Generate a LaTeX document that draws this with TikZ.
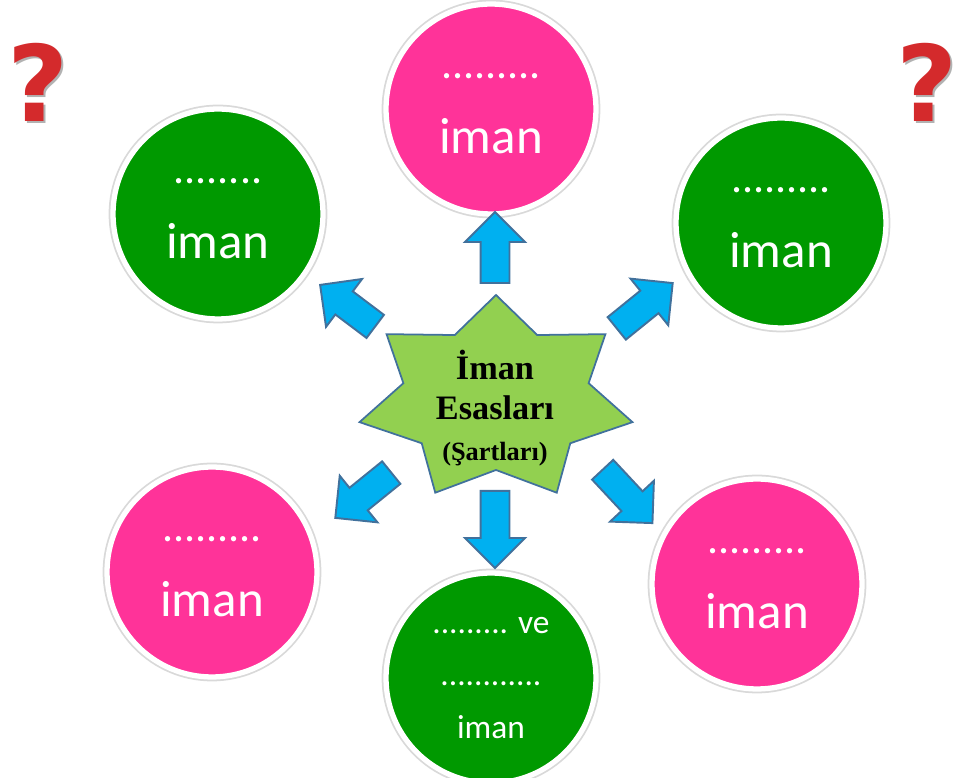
\documentclass[tikz,border=0pt]{standalone}
\usepackage{fontspec}
\setmainfont{Carlito}
\newfontfamily\starfont{Liberation Serif}
\newfontfamily\soufont{DejaVu Sans}
\usetikzlibrary{shapes.arrows}

\definecolor{pembe}{HTML}{FF3399}
\definecolor{yesil}{HTML}{009900}
\definecolor{yildiz}{HTML}{92D050}
\definecolor{okmavi}{HTML}{00B0F0}
\definecolor{kenar}{HTML}{41719C}
\definecolor{soru}{HTML}{D42A2C}

\begin{document}
\begin{tikzpicture}[x=0.02cm,y=0.02cm]
% Estilos
\tikzset{ball/.style={circle,minimum size=4.2cm,inner sep=0pt,text=white,align=center,
    preaction={draw=black!15,line width=5pt},draw=white,line width=3pt},
  blue arrow/.style={single arrow,draw=kenar,fill=okmavi,line width=1.1pt,inner sep=0.27cm,
    minimum width=0pt,single arrow head extend=0.31cm,anchor=tail},
  soru isareti/.style={font=\soufont\bfseries\fontsize{60}{60}\selectfont,inner sep=0pt}}

\useasboundingbox (0,0) rectangle (961,778);

% Yildiz
\coordinate (merkez) at (496,379);
\draw[fill=yildiz,draw=kenar,line width=1pt] (merkez) +(90-180/7:95 and 71)
  \foreach \k in {0,...,5}{ -- +({90+\k*360/7}:140 and 104) -- +({90+\k*360/7+180/7}:95 and 71)}
  -- +({90+6*360/7}:140 and 104) -- cycle;
\node[font=\starfont\bfseries\fontsize{19.5}{23}\selectfont,align=center] (esas) at (495,370)
  {İman\\Esasları\\{\fontsize{15}{20}\selectfont (Şartları)}};

% Daireler
\foreach \n/\x/\y/\c/\d in {allah/491/669/pembe/{.........},
    melek/218/564/yesil/{........},
    kitap/781/555/yesil/{.........},
    peygamber/212/206/pembe/{.........},
    ahiret/757/194/pembe/{.........}}{
  \node[ball,fill=\c,font=\fontsize{29}{43}\selectfont] (\n) at (\x,\y)
    {\rule{0pt}{8pt}{\fontsize{25}{43}\selectfont\d}\\iman};
}
\node[ball,fill=yesil,font=\fontsize{19}{30}\selectfont] (kader) at (491,100)
  {......... ve\\............\\iman};

% Oklar
\foreach \n/\x/\y/\a/\l in {ok1/495/494/90/1.42, ok2/495/288/-90/1.54, ok3/376/451/143/1.38,
    ok4/616/449/39/1.44, ok5/602/309/-47/1.46, ok6/392/306/219/1.44}
  \node[blue arrow,minimum height=\l cm,rotate=\a] (\n) at (\x,\y) {};

% Soru isaretleri
\foreach \n/\x in {sol/38, sag/927}{
  \node[soru isareti,text=black!30] (\n golge) at (\x+2,694) {?};
  \node[soru isareti,text=soru] (\n soru) at (\x,696) {?};
}

\end{tikzpicture}
\end{document}
